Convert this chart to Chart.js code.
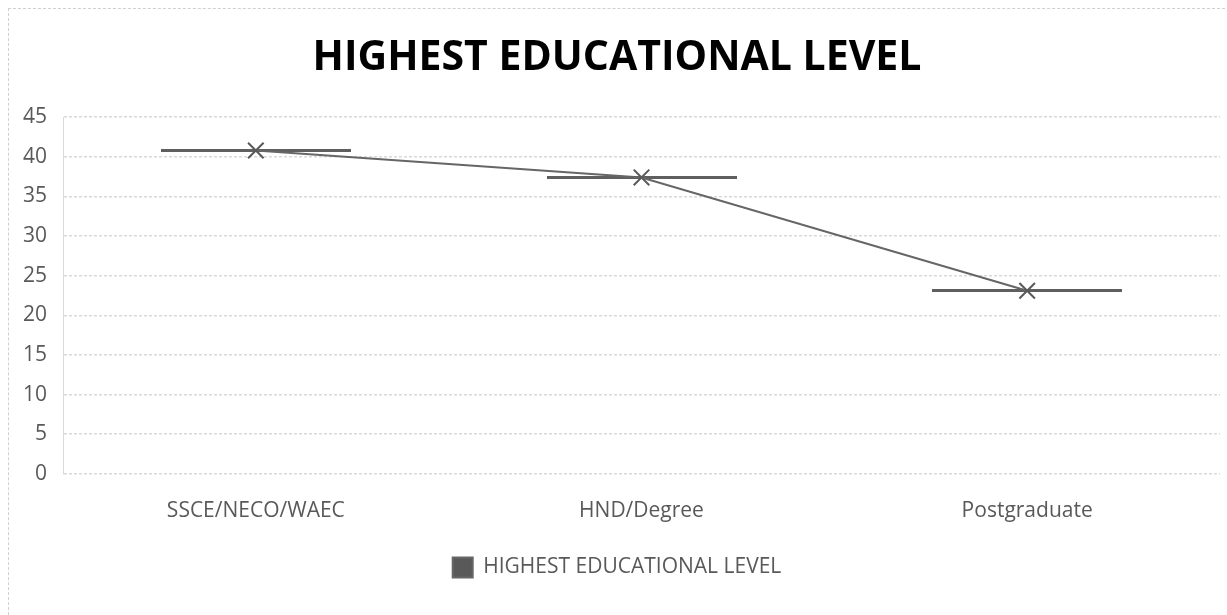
<!DOCTYPE html>
<html>
<head>
<meta charset="utf-8">
<script src="https://cdn.jsdelivr.net/npm/chart.js@4/dist/chart.umd.min.js"></script>
<style>
  html, body { margin: 0; padding: 0; background: #fff; overflow: hidden; }
  #frame { position: absolute; left: 8px; top: 8px; width: 1240px; height: 640px; border: 1px dashed #d0d0d0; }
  #wrap { position: absolute; left: 0; top: 0; width: 1233px; height: 615px; }
</style>
</head>
<body>
<div id="frame"></div>
<div id="wrap"><canvas id="educationChart"></canvas></div>
<script>
const categories = ['SSCE/NECO/WAEC', 'HND/Degree', 'Postgraduate'];
const levelValues = [40.8, 37.4, 23.1];
const yTicks = [0, 5, 10, 15, 20, 25, 30, 35, 40, 45];
const seriesName = 'HIGHEST EDUCATIONAL LEVEL';

document.addEventListener('DOMContentLoaded', function () {
    const ctx = document.getElementById('educationChart').getContext('2d');
    const grey = '#595959';

    // marker for the horizontal dash drawn at each value
    const dash = document.createElement('canvas');
    dash.width = 190;
    dash.height = 3;
    const dctx = dash.getContext('2d');
    dctx.fillStyle = '#5f5f5f';
    dctx.fillRect(0, 0, 190, 3);

    const educationChart = new Chart(ctx, {
        type: 'line',
        data: {
            labels: categories,
            datasets: [{
                label: seriesName,
                data: levelValues,
                borderColor: '#666666',
                backgroundColor: grey,
                borderWidth: 2,
                pointStyle: 'crossRot',
                pointRadius: 11,
                pointHoverRadius: 11,
                pointBorderWidth: 2,
                pointBorderColor: grey,
                fill: false,
                order: 1
            }, {
                label: 'dash',
                data: levelValues,
                showLine: false,
                pointStyle: dash,
                pointRadius: 1,
                pointHoverRadius: 1,
                order: 2
            }]
        },
        options: {
            responsive: true,
            maintainAspectRatio: false,
            animation: false,
            layout: { padding: { left: 8, right: 7, top: 8, bottom: 27 } },
            plugins: {
                title: {
                    display: true,
                    text: seriesName,
                    color: '#000',
                    font: { family: 'Open Sans', size: 41, weight: 'bold' },
                    padding: { top: 26, bottom: 34 }
                },
                legend: {
                    position: 'bottom',
                    labels: {
                        filter: function (item) { return item.datasetIndex === 0; },
                        boxWidth: 20,
                        boxHeight: 20,
                        color: grey,
                        font: { family: 'Open Sans', size: 21 },
                        padding: 16
                    }
                },
                tooltip: { enabled: false }
            },
            scales: {
                x: {
                    offset: true,
                    grid: { display: false },
                    border: { display: false },
                    ticks: {
                        color: grey,
                        font: { family: 'Open Sans', size: 21 },
                        padding: 17
                    }
                },
                y: {
                    min: 0,
                    max: 45,
                    afterBuildTicks: function (scale) {
                        scale.ticks = yTicks.map(v => ({ value: v }));
                    },
                    afterFit: function (scale) { scale.width = 55; },
                    grid: { color: '#d9d9d9', lineWidth: 1.5, drawTicks: false },
                    border: { display: true, color: '#d9d9d9', dash: [3, 2] },
                    ticks: {
                        color: grey,
                        font: { family: 'Open Sans', size: 21 },
                        padding: 16
                    }
                }
            }
        }
    });
});
</script>
</body>
</html>
